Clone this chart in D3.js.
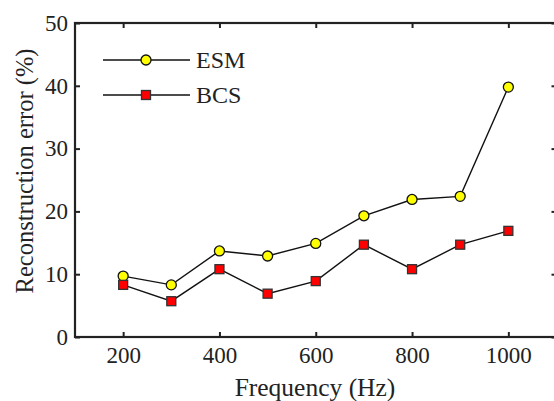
<!DOCTYPE html>
<meta charset="utf-8">
<style>
body { margin: 0; background: #fff; }
text { font-family: "Liberation Serif", "DejaVu Serif", serif; fill: #222; }
</style>
<body>
<script src="https://d3js.org/d3.v7.min.js"></script>
<script>
    var freqs = [200, 300, 400, 500, 600, 700, 800, 900, 1000];
    var esm = [9.7, 8.3, 13.7, 12.9, 14.9, 19.3, 21.9, 22.4, 39.8];
    var bcs = [8.3, 5.7, 10.8, 6.9, 8.9, 14.7, 10.8, 14.7, 16.9];
    var xTicks = [200, 400, 600, 800, 1000];
    var yTicks = [0, 10, 20, 30, 40, 50];

    var width = 554, height = 401;
    var plotLeft = 75, plotRight = 556.5, plotTop = 23, plotBottom = 337;

    var svg = d3.select("body").append("svg")
        .attr("width", width)
        .attr("height", height);

    var x = d3.scaleLinear().domain([100, 1100]).range([plotLeft, plotRight]);
    var y = d3.scaleLinear().domain([0, 50]).range([plotBottom, plotTop]);

    var axisColor = "#222";

    // inward ticks on all four sides
    function styleAxis(g) {
        g.select(".domain").remove();
        g.selectAll(".tick line").attr("stroke", axisColor).attr("stroke-width", 2);
        g.selectAll(".tick text").style("font-size", "23px").style("font-family", "Liberation Serif, serif").attr("fill", "#222");
    }

    svg.append("g")
        .attr("transform", "translate(0," + plotBottom + ")")
        .call(d3.axisBottom(x).tickValues(xTicks).tickSizeInner(-5).tickSizeOuter(0).tickPadding(10).tickFormat(d3.format("d")))
        .call(styleAxis);

    svg.append("g")
        .attr("transform", "translate(0," + plotTop + ")")
        .call(d3.axisTop(x).tickValues(xTicks).tickSizeInner(-5).tickSizeOuter(0).tickFormat(""))
        .call(styleAxis);

    svg.append("g")
        .attr("transform", "translate(" + plotLeft + ",0)")
        .call(d3.axisLeft(y).tickValues(yTicks).tickSizeInner(-5).tickSizeOuter(0).tickPadding(7))
        .call(styleAxis);

    svg.append("g")
        .attr("transform", "translate(" + plotRight + ",0)")
        .call(d3.axisRight(y).tickValues(yTicks).tickSizeInner(-5).tickSizeOuter(0).tickFormat(""))
        .call(styleAxis);

    svg.append("rect")
        .attr("x", plotLeft).attr("y", plotTop)
        .attr("width", plotRight - plotLeft).attr("height", plotBottom - plotTop)
        .attr("fill", "none")
        .attr("stroke", axisColor)
        .attr("stroke-width", 2.2);

    var line = d3.line()
        .x(function(d, i) { return x(freqs[i]); })
        .y(function(d) { return y(d); });

    svg.append("path").datum(esm)
        .attr("d", line).attr("fill", "none").attr("stroke", "#111").attr("stroke-width", 1.4);
    svg.append("path").datum(bcs)
        .attr("d", line).attr("fill", "none").attr("stroke", "#111").attr("stroke-width", 1.4);

    svg.selectAll(".esm")
        .data(esm)
        .enter().append("circle")
        .attr("class", "esm")
        .attr("cx", function(d, i) { return x(freqs[i]); })
        .attr("cy", function(d) { return y(d); })
        .attr("r", 5)
        .attr("fill", "#ffff00")
        .attr("stroke", "#111")
        .attr("stroke-width", 1.3);

    svg.selectAll(".bcs")
        .data(bcs)
        .enter().append("rect")
        .attr("class", "bcs")
        .attr("x", function(d, i) { return x(freqs[i]) - 4.5; })
        .attr("y", function(d) { return y(d) - 4.5; })
        .attr("width", 9)
        .attr("height", 9)
        .attr("fill", "#ff0000")
        .attr("stroke", "#333")
        .attr("stroke-width", 1.3);

    // legend
    var legend = svg.append("g");
    [["ESM", 60], ["BCS", 95]].forEach(function(item, k) {
        legend.append("line")
            .attr("x1", 103).attr("x2", 190)
            .attr("y1", item[1]).attr("y2", item[1])
            .attr("stroke", "#111").attr("stroke-width", 1.4);
        if (k == 0) {
            legend.append("circle").attr("cx", 146).attr("cy", item[1]).attr("r", 5)
                .attr("fill", "#ffff00").attr("stroke", "#111").attr("stroke-width", 1.3);
        } else {
            legend.append("rect").attr("x", 141.5).attr("y", item[1] - 4.5)
                .attr("width", 9).attr("height", 9)
                .attr("fill", "#ff0000").attr("stroke", "#333").attr("stroke-width", 1.3);
        }
        legend.append("text")
            .attr("x", 196).attr("y", item[1] + 8)
            .style("font-size", "24px")
            .text(item[0]);
    });

    svg.append("text")
        .attr("x", 315)
        .attr("y", 396)
        .attr("text-anchor", "middle")
        .style("font-size", "25.5px")
        .text("Frequency (Hz)");

    svg.append("text")
        .attr("transform", "translate(33," + 171 + ") rotate(-90)")
        .attr("text-anchor", "middle")
        .style("font-size", "24.5px")
        .text("Reconstruction error (%)");
</script>
</body>
